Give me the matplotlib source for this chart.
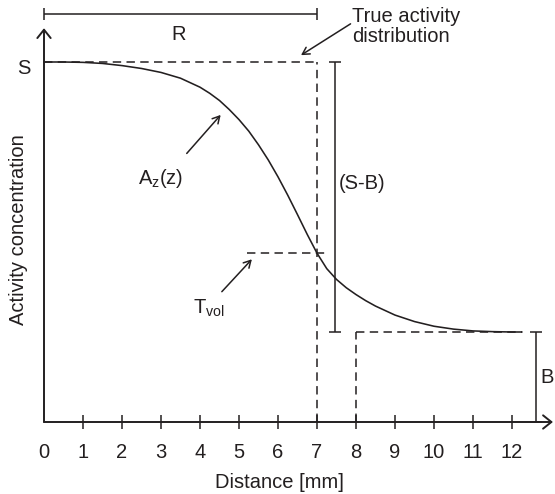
import numpy as np
import matplotlib.pyplot as plt

# Activity profile (distance in mm, concentration with S = 1)
distance = [0, 0.5, 1, 1.5, 2, 2.5, 3, 3.5, 4, 4.25, 4.5, 4.75, 5, 5.25, 5.5, 5.75,
            6, 6.25, 6.5, 6.75, 7, 7.25, 7.5, 7.75, 8, 8.25, 8.5, 9, 9.5, 10, 10.5,
            11, 11.5, 12, 12.25]
activity = [1.0, 1.0, 0.999, 0.996, 0.99, 0.982, 0.971, 0.955, 0.93, 0.913, 0.893,
            0.868, 0.84, 0.808, 0.77, 0.728, 0.681, 0.63, 0.576, 0.521, 0.469, 0.426,
            0.396, 0.373, 0.354, 0.337, 0.322, 0.297, 0.279, 0.266, 0.258, 0.253,
            0.251, 0.25, 0.25]

x_ticks = list(range(13))
x_tick_labels = [str(t) for t in x_ticks]

S = 1.0            # true activity level
B = 0.25           # background level
T_vol = 0.47       # threshold level
R = 7.0            # true edge [mm]
B_start = 8.0      # start of background region [mm]
T_range = [5.2, 7.31]
R_bar_y = 1.133
SB_bar_x = 7.46
B_bar_x = 12.61
y_axis_top = 1.094
x_axis_end = 13.05

ink = '#231f20'
fs = 14.5
dash = (0, (5.5, 3.5))

plt.rcParams['font.family'] = ['Liberation Sans', 'DejaVu Sans']
plt.rcParams['mathtext.fontset'] = 'custom'
plt.rcParams['mathtext.rm'] = 'Liberation Sans'

fig = plt.figure(figsize=(5.55, 4.94), dpi=100)
ax = fig.add_axes([0, 0, 1, 1])
ax.set_xlim(-44/39, 511/39)
ax.set_ylim(-72/360, 422/360)

for side in ax.spines.values():
    side.set_visible(False)
ax.spines['bottom'].set_position(('data', 0))

# Axis ticks
ax.set_xticks(x_ticks)
ax.set_xticklabels(x_tick_labels)
ax.set_yticks([])
ax.tick_params(axis='x', direction='inout', length=9.4, width=1.1, color=ink,
               labelsize=fs, labelcolor=ink, pad=10.5)
ax.xaxis.get_major_ticks()[0].tick1line.set_visible(False)

# Axes with open arrow heads
axis_arrow = dict(arrowstyle='->,head_length=0.6,head_width=0.48', color=ink, lw=1.4,
                  shrinkA=0, shrinkB=0, mutation_scale=10)
ax.annotate('', xy=(0, y_axis_top), xytext=(0, 0), arrowprops=axis_arrow)
ax.annotate('', xy=(x_axis_end, 0), xytext=(0, 0), arrowprops=axis_arrow)

# Profile
ax.plot(distance, activity, color=ink, lw=1.15, solid_joinstyle='round')

# Dashed guides
ax.hlines(S, 0, R, colors=ink, linestyles=dash, lw=1.1)
ax.vlines(R, 0, S, colors=ink, linestyles=dash, lw=1.1)
ax.hlines(T_vol, T_range[0], T_range[1], colors=ink, linestyles=dash, lw=1.1)
ax.hlines(B, B_start, distance[-1], colors=ink, linestyles=dash, lw=1.1)
ax.vlines(B_start, 0, B, colors=ink, linestyles=dash, lw=1.1)

# Dimension bars
bar_kw = dict(fmt='none', ecolor=ink, elinewidth=1.1, capsize=4.3, capthick=1.1)
ax.errorbar(R/2, R_bar_y, xerr=R/2, **bar_kw)
ax.errorbar(SB_bar_x, (S + B)/2, yerr=(S - B)/2, **bar_kw)
ax.errorbar(B_bar_x, B/2, yerr=B/2, **bar_kw)

# Labels
ax.text(3.44, 1.075, 'R', fontsize=fs, color=ink, ha='center', va='center')
ax.text(-0.51, 0.981, 'S', fontsize=fs, color=ink, ha='center', va='center')
ax.text(12.74, 0.107, 'B', fontsize=fs, color=ink, ha='left', va='baseline')
ax.text(7.57, 0.646, '(S-B)', fontsize=fs, color=ink, ha='left', va='baseline')
ax.text(7.89, 1.153, 'True activity\ndistribution', fontsize=fs, color=ink,
        ha='left', va='top', linespacing=1.1)
ax.text(2.42, 0.66, r'A$_{\mathregular{z}}$(z)', fontsize=fs, color=ink,
        ha='left', va='baseline')
ax.text(3.81, 0.302, r'T$_{\mathregular{vol}}$', fontsize=fs, color=ink,
        ha='left', va='baseline')

# Pointer arrows
pointer = dict(arrowstyle='->,head_length=0.5,head_width=0.28', color=ink, lw=1.1,
               shrinkA=0, shrinkB=0, mutation_scale=10)
ax.annotate('', xy=(6.59, 1.019), xytext=(7.86, 1.106), arrowprops=pointer)
ax.annotate('', xy=(4.53, 0.853), xytext=(3.66, 0.746), arrowprops=pointer)
ax.annotate('', xy=(5.33, 0.452), xytext=(4.56, 0.362), arrowprops=pointer)

# Axis titles
ax.text(-0.66, 0.533, 'Activity concentration', fontsize=fs, color=ink,
        rotation=90, ha='center', va='center')
ax.text(6.03, -0.182, 'Distance [mm]', fontsize=fs, color=ink, ha='center', va='baseline')

fig.savefig('out.png', dpi=100)
